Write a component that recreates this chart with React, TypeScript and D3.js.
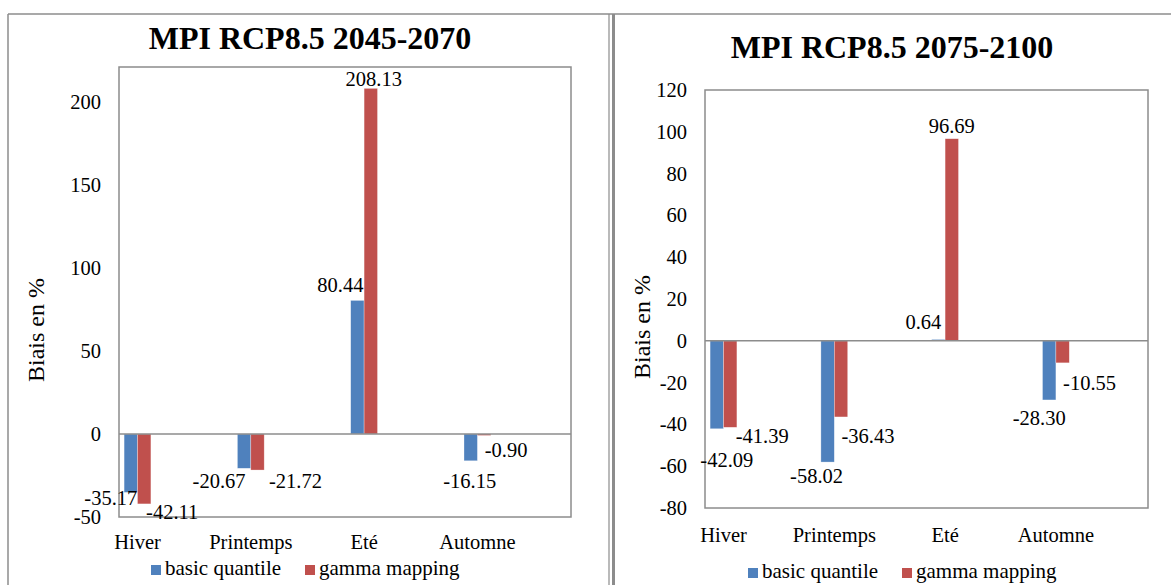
import React from "react";
import * as d3 from "d3";

const categories = ["Hiver", "Printemps", "Eté", "Automne"];
const seriesNames = ["basic quantile", "gamma mapping"];
const seriesColors = ["#4F81BD", "#C0504D"];

const basic2045 = [-35.17, -20.67, 80.44, -16.15];
const gamma2045 = [-42.11, -21.72, 208.13, -0.9];
const basic2075 = [-42.09, -58.02, 0.64, -28.3];
const gamma2075 = [-41.39, -36.43, 96.69, -10.55];

const ticks2045 = [-50, 0, 50, 100, 150, 200];
const ticks2075 = [-80, -60, -40, -20, 0, 20, 40, 60, 80, 100, 120];

const title2045 = "MPI RCP8.5 2045-2070";
const title2075 = "MPI RCP8.5 2075-2100";
const yTitle = "Biais en %";

// label nudges (dx, dy) relative to bar end, per series
const nudges2045 = [
  [[-20, 13], [-25, 20], [-17, -8], [-1, 27]],
  [[28, 15], [38, 18], [3, -2.5], [22, 22]],
];
const nudges2075 = [
  [[10, 38], [-11, 21], [-15, -10], [-10, 25]],
  [[32, 16], [27, 26], [0, -6], [27, 27]],
];

const FONT = "'Liberation Serif', 'Times New Roman', serif";
const AXIS = "#8c8c8c";

type PanelProps = {
  title: string;
  titleX: number;
  titleY: number;
  values: number[][];
  ticks: number[];
  yDomain: [number, number];
  plot: { x0: number; x1: number; y0: number; y1: number };
  bandRange: [number, number];
  nudges: number[][][];
  yTitlePos: [number, number];
  catDy: number;
  legendX: number;
  legendY: number;
};

const fmt = (v: number) => v.toFixed(2);

function Panel(p: PanelProps) {
  const y = d3.scaleLinear().domain(p.yDomain).range([p.plot.y1, p.plot.y0]);
  const x = d3.scaleBand<string>().domain(categories).range(p.bandRange);
  const sub = d3.scaleBand<string>().domain(seriesNames).range([-13.4, 13.4]);
  const center = (c: string) => (x(c) as number) + x.bandwidth() / 2;

  // legend layout
  const sq = 10;
  const w1 = 118;
  const gap = 22;
  const items = [
    { name: seriesNames[0], x: p.legendX },
    { name: seriesNames[1], x: p.legendX + sq + 4 + w1 + gap },
  ];

  return (
    <g fontFamily={FONT} fill="#000">
      <text x={p.titleX} y={p.titleY} textAnchor="middle" fontSize={32} fontWeight="bold">
        {p.title}
      </text>
      <rect
        x={p.plot.x0}
        y={p.plot.y0}
        width={p.plot.x1 - p.plot.x0}
        height={p.plot.y1 - p.plot.y0}
        fill="none"
        stroke={AXIS}
        strokeWidth={1.5}
      />
      {p.ticks.map((t) => (
        <text
          key={t}
          x={p.plot.x0 - 18}
          y={y(t)}
          textAnchor="end"
          dominantBaseline="central"
          fontSize={20.5}
        >
          {String(t)}
        </text>
      ))}
      <text
        transform={`translate(${p.yTitlePos[0]},${p.yTitlePos[1]}) rotate(-90)`}
        textAnchor="middle"
        dominantBaseline="central"
        fontSize={24}
      >
        {yTitle}
      </text>
      {p.values.map((vals, si) =>
        vals.map((v, ci) => {
          const cx = center(categories[ci]) + (sub(seriesNames[si]) as number);
          const y0 = y(0);
          const yv = y(v);
          return (
            <rect
              key={`b${si}-${ci}`}
              x={cx}
              y={Math.min(y0, yv)}
              width={sub.bandwidth()}
              height={Math.abs(yv - y0)}
              fill={seriesColors[si]}
              stroke="#ffffff"
              strokeOpacity={0.5}
              strokeWidth={0.6}
            />
          );
        })
      )}
      <line x1={p.plot.x0} x2={p.plot.x1} y1={y(0)} y2={y(0)} stroke={AXIS} strokeWidth={1.5} />
      {p.values.map((vals, si) =>
        vals.map((v, ci) => {
          const cx = center(categories[ci]) + (sub(seriesNames[si]) as number) + sub.bandwidth() / 2;
          const [dx, dy] = p.nudges[si][ci];
          return (
            <text
              key={`l${si}-${ci}`}
              x={cx + dx}
              y={y(v) + dy}
              textAnchor="middle"
              fontSize={20.5}
            >
              {fmt(v)}
            </text>
          );
        })
      )}
      {categories.map((c) => (
        <text key={c} x={center(c)} y={p.plot.y1 + p.catDy} textAnchor="middle" fontSize={20.5}>
          {c}
        </text>
      ))}
      {items.map((it, i) => (
        <g key={it.name}>
          <rect x={it.x} y={p.legendY - 10} width={sq} height={sq} fill={seriesColors[i]} />
          <text x={it.x + sq + 4} y={p.legendY} fontSize={21}>
            {it.name}
          </text>
        </g>
      ))}
    </g>
  );
}

export default function App() {
  return (
    <svg
      width={1171}
      height={585}
      style={{ position: "absolute", left: 0, top: 0, background: "#fff" }}
    >
      <rect x={0} y={0} width={1171} height={585} fill="#fff" />
      {/* panel frames */}
      <line x1={8} x2={1171} y1={14} y2={14} stroke={AXIS} strokeWidth={1.5} />
      <line x1={8} x2={8} y1={14} y2={585} stroke={AXIS} strokeWidth={1.5} />
      <line x1={609} x2={609} y1={14} y2={585} stroke={AXIS} strokeWidth={1.2} />
      <line x1={613.5} x2={613.5} y1={14} y2={585} stroke={AXIS} strokeWidth={3} />
      <Panel
        title={title2045}
        titleX={310}
        titleY={49}
        values={[basic2045, gamma2045]}
        ticks={ticks2045}
        yDomain={[-50, 221]}
        plot={{ x0: 119, x1: 571, y0: 67, y1: 517 }}
        bandRange={[80.85, 534.05]}
        nudges={nudges2045}
        yTitlePos={[36, 330]}
        catDy={32}
        legendX={151}
        legendY={575}
      />
      <Panel
        title={title2075}
        titleX={892}
        titleY={58}
        values={[basic2075, gamma2075]}
        ticks={ticks2075}
        yDomain={[-80, 120]}
        plot={{ x0: 705, x1: 1148, y0: 90, y1: 508 }}
        bandRange={[668.1, 1111.3]}
        nudges={nudges2075}
        yTitlePos={[642, 327]}
        catDy={34}
        legendX={748}
        legendY={578}
      />
    </svg>
  );
}
